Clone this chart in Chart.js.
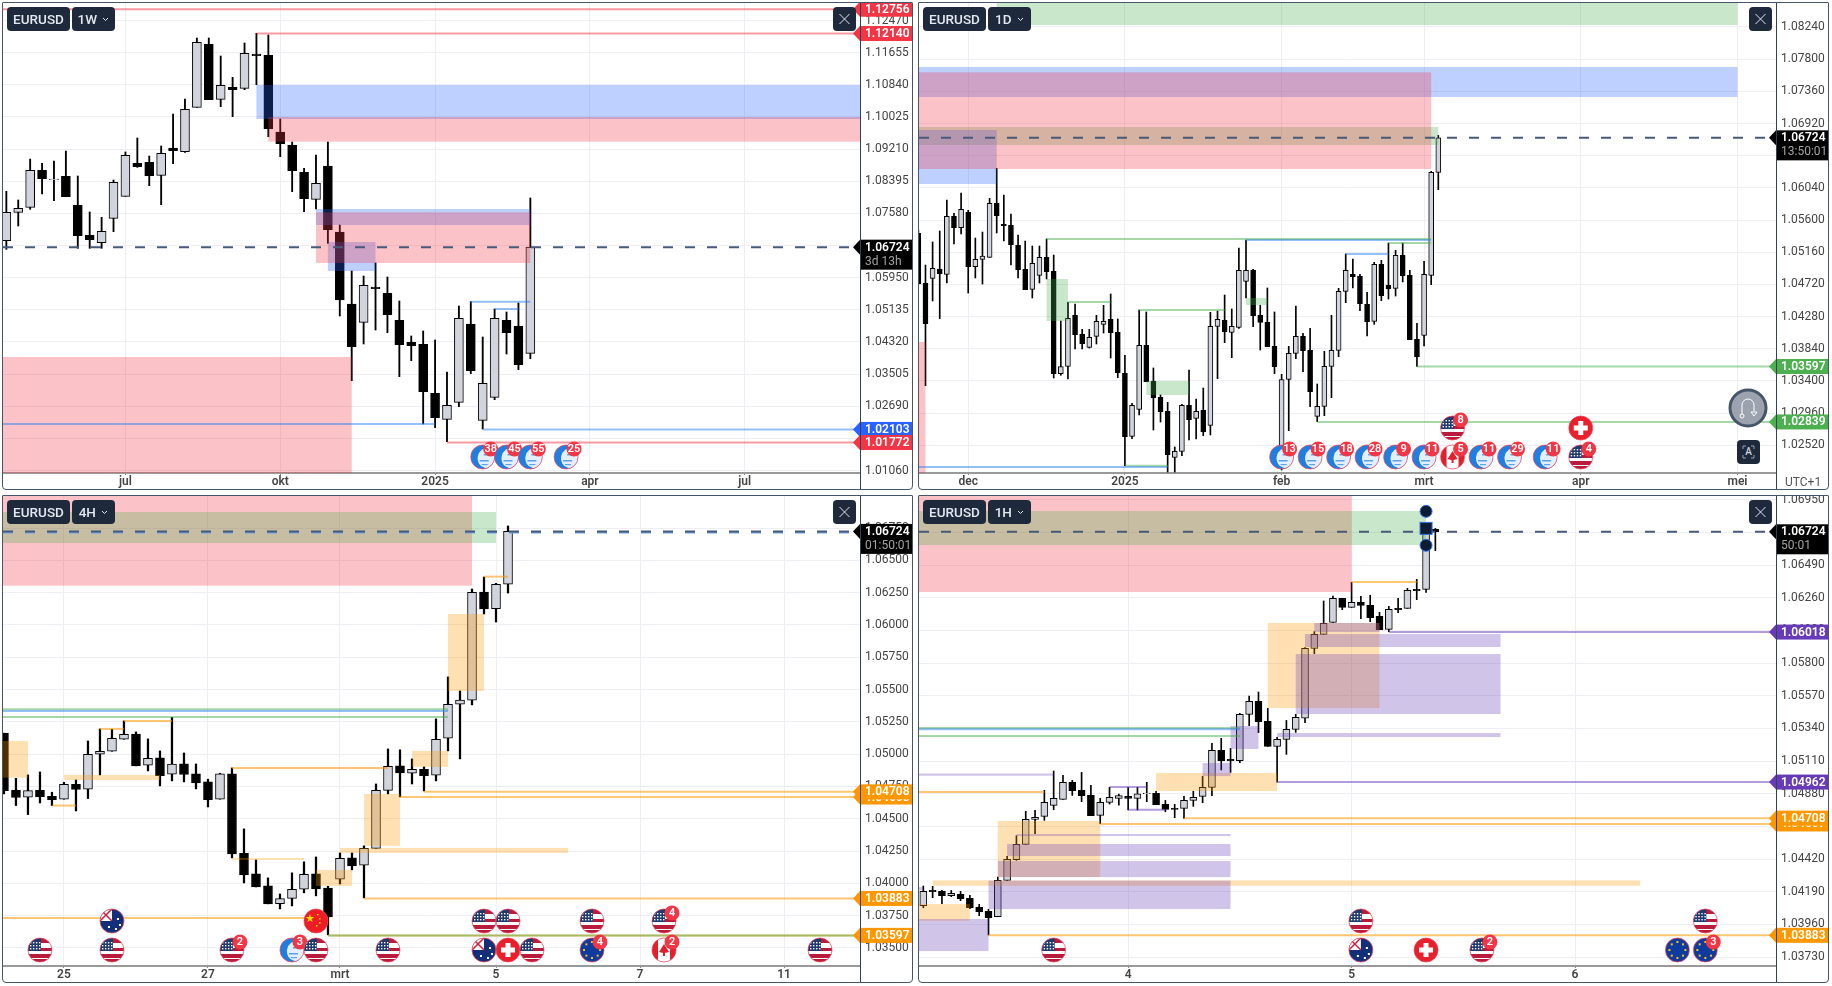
<!DOCTYPE html>
<html>
<head>
<meta charset="utf-8">
<title>EURUSD</title>
<script src="https://cdn.jsdelivr.net/npm/chart.js@4"></script>
<style>
  html, body { margin: 0; padding: 0; background: #fff; width: 1832px; height: 986px; overflow: hidden; font-family: Roboto, sans-serif; }
  .panel { position: absolute; width: 911px; height: 488px; background: #fff; }
  .frame { position: absolute; inset: 0; border: 1px solid #475569; border-radius: 1px 1px 4px 4px; box-sizing: border-box; border-width: 1px; pointer-events: none; }
  canvas { position: absolute; left: 0; top: 0; }
  .btn { position: absolute; top: 5px; height: 24px; background: #1e293b; color: #e2e8f0; border-radius: 4px; font: 500 13.5px/24px Roboto, sans-serif; text-align: center; box-sizing: border-box; }
  .utc { position: absolute; font: 12px Roboto, sans-serif; color: #555; }
</style>
</head>
<body>
<script>
// all prices are in points (1/100000)

// ---- 1W ----
const wkOpen = [106889,107607,107734,108672,108435,108520,107785,107024,106838,107455,108013,108849,108875,108545,109238,109145,110269,111866,110472,110776,110751,111621,111587,109644,109314,108621,107937,108782,107109,105284,104819,105715,105554,104870,104312,104261,103019,102360,102791,104777,102335,102918,104870,104726,104033];
const wkHigh = [108140,107920,108959,108849,108909,109162,108528,107616,107481,108427,109137,109492,109035,109289,110100,110480,112027,112027,111570,111030,111900,112145,112103,109973,109390,108723,109061,109390,107286,106120,105993,106323,105968,105360,104472,104599,104371,103560,105233,105343,104447,105157,105081,105309,107971];
const wkLow = [106669,107261,107683,108072,107903,108004,106695,106695,106695,107117,108013,108748,108283,107802,108841,109128,110269,110463,110286,110032,110717,110844,109525,109018,108131,107624,107692,106821,104979,103340,104270,104624,104557,103441,103847,102242,102149,101794,102681,103518,102115,102858,104016,103619,103898];
const wkClose = [107607,107709,108672,108461,108452,108004,107016,106914,107126,108368,109052,108765,108537,109103,109171,110218,111917,110463,110827,110717,111638,111579,109728,109348,108664,107954,108342,107168,105385,104202,105757,105672,105013,104253,104227,103061,102402,102715,104920,103594,103272,104920,104557,103746,106724];
const wkPriceTicks = [112470,111655,110840,110025,109210,108395,107580,106765,105950,105135,104320,103505,102690,101875,101060];
const wkTimeBars = [10,23,36,49,62];
const wkTimeLabels = ['jul','okt','2025','apr','jul'];
const wkBlueZones = [[21,null,110835,109973],[26,44,107692,107286],[27,31,106855,106120]];
const wkRedZones = [[22,null,110024,109399],[26,44,107607,106323],[null,29,103940,100900]];
const wkRedLines = [[null,null,112756],[21,null,112140],[37,null,101772]];
const wkBlueLines = [[null,36,102242],[40,null,102103],[39,44,105343],[41,43,105157]];
const wkTagPrices = [106724,102103,101772,112756,112140];
const wkTagKinds = ['black','blue','red','red','red'];
const wkEventBars = [40,42,44,47];
const wkEventRows = [0,0,0,0];
const wkEventKinds = ['globe','globe','globe','globe'];
const wkEventCounts = [38,45,55,25];

// ---- 1D ----
const dyOpen = [105418,104735,104803,104931,104858,105651,105496,105705,104962,105063,105090,105828,105541,105528,105254,104926,104653,104844,105090,104899,103499,103600,104297,104037,103859,104010,104174,104242,104065,103504,102642,103012,103887,103395,103176,102984,102355,102437,103066,102889,102998,102793,104147,104229,104065,104133,104762,104912,104297,104201,103873,102296,103422,103777,104010,103818,102916,103053,103600,103818,104625,104858,104830,104447,104215,104994,104707,104666,105117,104844,103969,104024,104844,106252];
const dyHigh = [105464,104985,105300,105450,105874,105692,105970,105733,105354,105436,105897,106307,105942,105683,105395,105313,105245,105245,105341,105122,104220,104475,104452,104106,104106,104297,104434,104589,104247,103750,103094,104370,104343,103577,103208,103107,102497,103080,103549,103153,103303,104338,104356,104575,104384,105218,105327,104926,104434,104671,104343,103490,103873,104425,104051,104119,103358,103805,104297,104666,105136,105067,104858,104612,105022,105049,105286,105186,105286,104912,104188,105035,106266,106758];
const dyLow = [104725,103335,104493,104251,104739,105272,105409,104602,104808,104725,105090,105423,105313,104985,104808,104648,104534,104739,104794,103440,103477,103426,103837,103837,103850,103905,104055,103714,103445,102241,102611,102934,103390,102729,102838,102155,102155,102378,102592,102606,102652,102661,103431,103923,103718,104119,104534,104142,103823,103869,103499,102182,102720,103704,103527,103048,102843,102925,103171,103732,104470,104671,104361,104014,104174,104498,104520,104561,104753,103964,103600,103878,104716,106015];
const dyClose = [104725,104183,104940,104867,105651,105496,105746,104962,105063,105108,105828,105660,105523,105263,104921,104648,105008,105090,104894,103499,103595,104256,104033,103910,103996,104215,104215,104060,103513,102638,103066,103887,103390,103171,102980,102392,102437,103066,102870,102984,102706,104147,104242,104074,104147,104912,104912,104292,104201,103869,103595,103417,103777,104010,103814,103253,103053,103600,103818,104625,104912,104826,104457,104210,104994,104566,104657,105117,104839,103964,103732,104858,106252,106724];
const dyPriceTicks = [108240,107800,107360,106920,106480,106040,105600,105160,104720,104280,103840,103400,102960,102520];
const dyTimeBars = [7,29,51,71,93,115];
const dyTimeLabels = ['dec','2025','feb','mrt','apr','mei'];
const dyGreenZones = [[11,115,108900,108267],[null,73,106872,106626],[18,21,104794,104220],[32,38,103399,103208],[46,49,104534,104438]];
const dyBlueZones = [[null,115,107693,107283],[null,11,106831,106093]];
const dyRedZones = [[null,72,107620,106298],[null,1,103932,101000]];
const dyGreenLines = [[18,72,105341],[66,72,105286],[21,27,104479],[31,43,104370],[29,35,102241],[70,null,103597],[56,null,102839]];
const dyBlueLines = [[46,72,105327],[60,66,105136],[null,35,102223]];
const dyTagPrices = [106724,103597,102839];
const dyTagKinds = ['black','green','green'];
const dyEventBars = [51,55,59,63,67,71,75,79,83,88,93,75,93];
const dyEventRows = [0,0,0,0,0,0,0,0,0,0,0,1,1];
const dyEventKinds = ['globe','globe','globe','globe','globe','globe','ca','globe','globe','globe','us','us','ch'];
const dyEventCounts = [13,15,18,28,9,11,5,11,29,11,4,8,0];

// ---- 4H ----
const h4Open = [105162,104720,104666,104720,104674,104651,104767,104728,104999,105022,105115,105156,104914,104971,104844,104924,104847,104785,104651,104847,104233,104073,103980,103843,103884,103954,104073,103964,104032,104197,104140,104271,104720,104909,104852,104883,104837,105123,105386,105417,106255,106126,106315];
const h4High = [105162,104813,104839,104862,104705,104782,104800,105102,105195,105193,105257,105172,105118,105025,105285,105009,104924,104806,104852,104893,104421,104181,104042,103918,104081,104166,104204,103977,104235,104235,104290,104769,105040,105033,104963,104901,105273,105598,105489,106278,106371,106322,106766];
const h4Low = [104692,104602,104532,104622,104602,104651,104560,104656,104839,105022,105115,104909,104870,104754,104793,104785,104731,104591,104651,104197,104003,103972,103841,103802,103825,103926,103903,103601,103995,104104,103887,104271,104692,104669,104769,104715,104793,105025,104963,105381,106085,106023,106247];
const h4Close = [104718,104664,104718,104671,104648,104767,104726,104999,105022,105123,105154,104909,104968,104834,104922,104842,104777,104648,104847,104228,104065,103972,103841,103882,103954,104070,103957,103740,104194,104135,104271,104720,104906,104855,104883,104834,105115,105386,105419,106253,106124,106315,106724];
const h4PriceTicks = [106750,106500,106250,106000,105750,105500,105250,105000,104750,104500,104250,104000,103750,103500];
const h4TimeBars = [5,17,28,41,53,65];
const h4TimeLabels = ['25','27','mrt','5','7','11'];
const h4RedZones = [[null,39,107300,106304]];
const h4GreenZones = [[null,41,106874,106634]];
const h4OrangeZones = [[null,2,105102,104818],[5,13,104839,104800],[30,33,104692,104290],[26,29,104104,103980],[34,37,105025,104901],[37,40,106085,105489],[28,47,104274,104235],[19,25,104197,104181]];
const h4OrangeLines = [[4,6,104602],[8,10,105195],[10,14,105257],[19,32,104893],[35,null,104708],[33,null,104668],[30,null,103883],[27,null,103597],[null,27,103732],[40,42,106374]];
const h4GreenLines = [[null,37,105347],[null,37,105288],[27,null,103597]];
const h4BlueLines = [[null,37,105334]];
const h4TagPrices = [106724,104668,104708,103883,103597];
const h4TagKinds = ['black','orange','orange','orange','orange'];
const h4EventBars = [3,9,19,24,26,32,40,42,44,49,55,68,9,26,40,42,49,55];
const h4EventRows = [0,0,0,0,0,0,0,0,0,0,0,0,1,1,1,1,1,1];
const h4EventKinds = ['us','us','us','globe','us','us','au','ch','us','eu','ca','us','au','cn','us','us','us','us'];
const h4EventCounts = [0,0,2,3,0,0,0,0,0,4,2,0,0,0,0,0,0,4];

// ---- 1H ----
const h1Open = [104091,104199,104192,104162,104171,104143,104080,104052,104014,104270,104415,104523,104699,104720,104798,104840,104960,104904,104868,104728,104819,104847,104861,104847,104880,104882,104805,104777,104777,104833,104861,104925,105185,105122,105112,105439,105530,105389,105213,105263,105333,105411,105903,106002,106086,106255,106192,106227,106206,106129,106037,106185,106185,106319,106319,106741];
const h1High = [104230,104228,104199,104199,104192,104164,104101,104066,104293,104439,104584,104756,104763,104904,105040,105009,104974,105030,104939,104847,104925,104878,104925,104925,104960,104897,104833,104805,104861,104897,105002,105234,105270,105199,105446,105568,105596,105481,105277,105396,105439,105908,106021,106237,106272,106255,106368,106270,106277,106157,106199,106255,106326,106389,106748,106748];
const h1Low = [104077,104148,104106,104155,104127,104070,104021,103885,104014,104270,104411,104523,104598,104692,104767,104840,104868,104824,104725,104669,104807,104800,104765,104765,104824,104803,104753,104711,104706,104791,104817,104866,105047,105030,105098,105359,105310,105213,104962,105157,105312,105380,105866,106002,106086,106176,106192,106112,106091,106035,106021,106155,106185,106246,106298,106591];
const h1Close = [104192,104190,104162,104178,104141,104077,104049,104007,104270,104418,104523,104699,104713,104819,104847,104960,104901,104866,104725,104819,104854,104866,104847,104880,104885,104803,104770,104770,104833,104854,104925,105185,105112,105112,105439,105530,105387,105213,105263,105333,105418,105903,106002,106079,106255,106192,106227,106206,106119,106035,106178,106176,106312,106309,106725,106724];
const h1PriceTicks = [106950,106720,106490,106260,106030,105800,105570,105340,105110,104880,104650,104420,104190,103960,103730];
const h1TimeBars = [22,46,70];
const h1TimeLabels = ['4','5','6'];
const h1RedZones = [[null,46,107000,106300]];
const h1GreenZones = [[null,54,106870,106631]];
const h1OrangeZones = [[37,49,106082,105483],[25,38,105026,104899],[8,19,104688,104293],[1,77,104270,104232],[null,5,104103,103986]];
const h1PurpleZones = [[null,7,103998,103772],[7,33,104268,104068],[8,33,104406,104293],[9,33,104526,104441],[10,33,104596,104582],[30,33,105096,105004],[33,36,105357,105195],[40,62,105863,105441],[41,62,106004,105913],[42,49,106082,106018],[38,62,105307,105279],[null,14,105022,105007],[null,0,104222,104200]];
const h1PurpleLines = [[20,24,104927],[22,26,104767],[50,null,106018],[38,null,104962]];
const h1OrangeLines = [[null,13,104892],[19,null,104667],[28,null,104708],[7,null,103883],[46,53,106370]];
const h1GreenLines = [[null,34,105342],[null,34,105286]];
const h1BlueLines = [[null,34,105333]];
const h1TagPrices = [106724,106018,104962,104667,104708,103883];
const h1TagKinds = ['black','purple','purple','orange','orange','orange'];
const h1MarkerCircles = [106868,106629];
const h1MarkerSquares = [106748];
const h1MarkerBar = 54;
const h1EventBars = [14,47,54,60,81,84,47,84];
const h1EventRows = [0,0,0,0,0,0,1,1];
const h1EventKinds = ['us','au','ch','us','eu','eu','us','us'];
const h1EventCounts = [0,0,0,2,0,3,0,0];

const lastPrice = 106724;

const zoneFill = { red: 'rgba(242,54,69,.3)', blue: 'rgba(41,98,255,.3)', green: 'rgba(76,175,80,.3)', orange: 'rgba(255,152,0,.3)', purple: 'rgba(103,58,183,.3)' };
const lineFill = { red: 'rgba(242,54,69,.5)', blue: 'rgba(41,130,240,.5)', green: 'rgba(76,175,80,.5)', orange: 'rgba(255,152,0,.55)', purple: 'rgba(103,58,183,.5)' };
const tagFill = { red: '#f23645', blue: '#2962ff', green: '#4caf50', orange: '#ff9800', purple: '#673ab7', black: '#000' };

function clipCircle(ctx, x, y, r) {
  ctx.beginPath();
  ctx.arc(x, y, r, 0, Math.PI * 2);
  ctx.clip();
}

function drawFlag(ctx, kind, x, y, r) {
  ctx.save();
  clipCircle(ctx, x, y, r);
  if (kind === 'us') {
    ctx.fillStyle = '#fff';
    ctx.fillRect(x - r, y - r, r * 2, r * 2);
    ctx.fillStyle = '#b71c3c';
    ctx.fillRect(x - r, y - 2, r * 2, 3);
    ctx.fillRect(x - r, y + 4, r * 2, 9);
    ctx.fillStyle = '#fff';
    ctx.fillRect(x - r, y + 8, r * 2, 1);
    ctx.fillStyle = '#b71c3c';
    ctx.fillRect(x, y - r, r, 5);
    ctx.fillStyle = '#1f3a6e';
    ctx.fillRect(x - r, y - r, r + 1, r + 1);
    ctx.fillStyle = '#fff';
    for (let i = 0; i < 4; i++) for (let j = 0; j < 3; j++) ctx.fillRect(x - 10 + i * 3, y - 8 + j * 3, 1.4, 1.4);
  } else if (kind === 'globe') {
    ctx.fillStyle = '#1e7fe0';
    ctx.fillRect(x - r, y - r, r * 2, r * 2);
    ctx.fillStyle = '#e3efff';
    ctx.beginPath();
    ctx.ellipse(x + 4, y + 1, 9, 10, 0.2, 0, Math.PI * 2);
    ctx.fill();
    ctx.fillStyle = '#5aa2ea';
    ctx.fillRect(x - 3, y + 3, 9, 1.5);
    ctx.fillRect(x + 1, y - 3, 8, 1.5);
    ctx.fillRect(x - 1, y + 7, 6, 1.2);
  } else if (kind === 'au' || kind === 'eu') {
    ctx.fillStyle = kind === 'au' ? '#12307a' : '#0f3a9e';
    ctx.fillRect(x - r, y - r, r * 2, r * 2);
    if (kind === 'au') {
      ctx.fillStyle = '#fff';
      ctx.fillRect(x - r, y - r, r, r);
      ctx.strokeStyle = '#d02040';
      ctx.lineWidth = 1.5;
      ctx.beginPath();
      ctx.moveTo(x - r, y - r);
      ctx.lineTo(x, y);
      ctx.moveTo(x, y - r);
      ctx.lineTo(x - r, y);
      ctx.stroke();
      ctx.fillStyle = '#fff';
      [[-4, 5], [5, -3], [7, 3], [3, 7]].forEach(p => ctx.fillRect(x + p[0], y + p[1], 2, 2));
    } else {
      ctx.fillStyle = '#f5c518';
      for (let i = 0; i < 8; i++) {
        const a = i * Math.PI / 4;
        ctx.fillRect(x + Math.cos(a) * 8 - 1, y + Math.sin(a) * 8 - 1, 2, 2);
      }
    }
  } else if (kind === 'cn') {
    ctx.fillStyle = '#ee1c25';
    ctx.fillRect(x - r, y - r, r * 2, r * 2);
    ctx.fillStyle = '#ffde00';
    ctx.font = '11px "DejaVu Sans"';
    ctx.textAlign = 'center';
    ctx.textBaseline = 'middle';
    ctx.fillText('\u2605', x - 6, y - 2);
    [[1, -7], [3, -3], [3, 1], [0, 4]].forEach(p => ctx.fillRect(x + p[0], y + p[1], 1.5, 1.5));
  } else if (kind === 'ca') {
    ctx.fillStyle = '#fff';
    ctx.fillRect(x - r, y - r, r * 2, r * 2);
    ctx.fillStyle = '#e0202c';
    ctx.fillRect(x - r, y - r, 6, r * 2);
    ctx.fillRect(x + r - 6, y - r, 6, r * 2);
    ctx.beginPath();
    ctx.moveTo(x, y - 6);
    ctx.lineTo(x + 5, y + 2);
    ctx.lineTo(x + 1, y + 3);
    ctx.lineTo(x + 1, y + 6);
    ctx.lineTo(x - 1, y + 6);
    ctx.lineTo(x - 1, y + 3);
    ctx.lineTo(x - 5, y + 2);
    ctx.closePath();
    ctx.fill();
  } else if (kind === 'ch') {
    ctx.fillStyle = '#e8202c';
    ctx.fillRect(x - r, y - r, r * 2, r * 2);
    ctx.fillStyle = '#fff';
    ctx.fillRect(x - 7, y - 2.5, 14, 5);
    ctx.fillRect(x - 2.5, y - 7, 5, 14);
  }
  ctx.restore();
  ctx.strokeStyle = 'rgba(242,70,90,.75)';
  ctx.lineWidth = 1;
  ctx.beginPath();
  ctx.arc(x, y, r, 0, Math.PI * 2);
  ctx.stroke();
}

function drawEvent(ctx, kind, x, y, count) {
  drawFlag(ctx, kind, x, y, 12);
  if (count) {
    ctx.fillStyle = '#f23645';
    ctx.beginPath();
    ctx.arc(x + 8, y - 8, 7.5, 0, Math.PI * 2);
    ctx.fill();
    ctx.fillStyle = '#fff';
    ctx.font = '600 11px Roboto';
    ctx.textAlign = 'center';
    ctx.textBaseline = 'middle';
    ctx.fillText(count, x + 8, y - 7.5);
  }
}

function drawTag(chart, price, kind, clock) {
  const { ctx, chartArea: area, scales } = chart;
  const y = scales.y.getPixelForValue(price / 1e5);
  const x = area.right;
  const w = chart.width - x - 1;
  const h = kind === 'black' ? 30 : 15;
  ctx.fillStyle = tagFill[kind];
  ctx.beginPath();
  ctx.moveTo(x - 7, y);
  ctx.lineTo(x, y - 7.5);
  ctx.lineTo(x, y + 7.5);
  ctx.closePath();
  ctx.fill();
  ctx.fillRect(x, y - 7.5, w, h);
  ctx.fillStyle = '#fff';
  ctx.font = '600 12px Roboto';
  ctx.textAlign = 'left';
  ctx.textBaseline = 'middle';
  ctx.fillText((price / 1e5).toFixed(5), x + 5, y + 0.5);
  if (kind === 'black') {
    ctx.fillStyle = '#a3a3a3';
    ctx.font = '12px Roboto';
    ctx.fillText(clock, x + 5, y + 14.5);
  }
}

function drawPanel(cfg) {
  const panel = document.createElement('div');
  panel.className = 'panel';
  panel.style.left = cfg.left + 'px';
  panel.style.top = cfg.top + 'px';
  const canvas = document.createElement('canvas');
  canvas.width = 911;
  canvas.height = 488;
  canvas.style.width = '911px';
  canvas.style.height = '488px';
  panel.appendChild(canvas);
  const frame = document.createElement('div');
  frame.className = 'frame';
  panel.appendChild(frame);

  const overlay = {
    id: 'overlay',
    afterDatasetsDraw(chart) {
      const { ctx, chartArea: area, scales } = chart;
      const px = b => (b === null ? null : scales.x.getPixelForValue(b));
      const py = v => scales.y.getPixelForValue(v / 1e5);
      ctx.save();
      ctx.beginPath();
      ctx.rect(area.left, area.top, area.width, area.height);
      ctx.clip();
      Object.keys(cfg.zones).forEach(colour => {
        ctx.fillStyle = zoneFill[colour];
        cfg.zones[colour].forEach(z => {
          const x0 = z[0] === null ? area.left : px(z[0]);
          const x1 = z[1] === null ? area.right : px(z[1]);
          ctx.fillRect(x0, py(z[2]), x1 - x0, py(z[3]) - py(z[2]));
        });
      });
      ctx.lineWidth = 2;
      Object.keys(cfg.lines).forEach(colour => {
        ctx.strokeStyle = lineFill[colour];
        cfg.lines[colour].forEach(l => {
          ctx.beginPath();
          ctx.moveTo(l[0] === null ? area.left : px(l[0]), py(l[2]));
          ctx.lineTo(l[1] === null ? area.right : px(l[1]), py(l[2]));
          ctx.stroke();
        });
      });
      // last price
      ctx.lineWidth = 2;
      ctx.setLineDash([10, 12]);
      if (cfg.blueUnderDash) {
        ctx.strokeStyle = '#6f9ff0';
        ctx.beginPath();
        ctx.moveTo(area.left, py(lastPrice) + 1);
        ctx.lineTo(area.right, py(lastPrice) + 1);
        ctx.stroke();
      }
      ctx.strokeStyle = '#475a78';
      ctx.beginPath();
      ctx.moveTo(area.left, py(lastPrice));
      ctx.lineTo(area.right, py(lastPrice));
      ctx.stroke();
      ctx.setLineDash([]);
      if (cfg.markers) {
        const mx = px(cfg.markers.bar);
        ctx.fillStyle = '#0f1b33';
        ctx.strokeStyle = '#2f6fe0';
        ctx.lineWidth = 1;
        cfg.markers.circles.forEach(v => {
          ctx.beginPath();
          ctx.arc(mx, py(v), 6, 0, Math.PI * 2);
          ctx.fill();
          ctx.stroke();
        });
        cfg.markers.squares.forEach(v => {
          ctx.fillRect(mx - 6, py(v) - 6, 12, 12);
          ctx.strokeRect(mx - 6, py(v) - 6, 12, 12);
        });
      }
      ctx.restore();
    },
    afterDraw(chart) {
      const { ctx, chartArea: area, scales } = chart;
      ctx.save();
      cfg.events.bars.forEach((b, i) => {
        const y = area.bottom - (cfg.events.rows[i] ? 45 : 16);
        drawEvent(ctx, cfg.events.kinds[i], scales.x.getPixelForValue(b), y, cfg.events.counts[i]);
      });
      cfg.tagPrices.forEach((p, i) => {
        if (cfg.tagKinds[i] !== 'black') drawTag(chart, p, cfg.tagKinds[i], cfg.clock);
      });
      drawTag(chart, lastPrice, 'black', cfg.clock);
      ctx.strokeStyle = '#334155';
      ctx.lineWidth = 1;
      ctx.beginPath();
      ctx.moveTo(area.right + 0.5, 0);
      ctx.lineTo(area.right + 0.5, chart.height);
      ctx.stroke();
      ctx.restore();
    }
  };

  const bars = cfg.open.map((_, i) => i);
  new Chart(canvas, {
    type: 'bar',
    data: {
      datasets: [
        {
          label: 'body',
          order: 1,
          data: bars.map(i => ({ x: i, y: [cfg.open[i] / 1e5, cfg.close[i] / 1e5] })),
          barThickness: cfg.bodyWidth,
          grouped: false,
          backgroundColor: bars.map(i => (cfg.close[i] >= cfg.open[i] ? '#d1d4dc' : '#000')),
          borderColor: '#000',
          borderWidth: 1,
          borderSkipped: false
        },
        {
          label: 'wick',
          order: 2,
          data: bars.map(i => ({ x: i, y: [cfg.low[i] / 1e5, cfg.high[i] / 1e5] })),
          barThickness: cfg.wickWidth,
          grouped: false,
          backgroundColor: '#000',
          borderWidth: 0
        }
      ]
    },
    options: {
      responsive: false,
      animation: false,
      devicePixelRatio: 1,
      layout: { padding: { top: 1, left: 1, right: 0, bottom: 0 } },
      plugins: { legend: { display: false }, tooltip: { enabled: false } },
      scales: {
        x: {
          type: 'linear',
          offset: false,
          min: cfg.xMin,
          max: cfg.xMax,
          grid: { offset: false, color: '#eeeef4', tickColor: '#888', tickLength: 2 },
          border: { color: '#999', width: 2 },
          afterBuildTicks(axis) { axis.ticks = cfg.timeBars.map(v => ({ value: v })); },
          afterFit(axis) { axis.height = 17; axis.paddingLeft = 0; axis.paddingRight = 0; },
          ticks: {
            autoSkip: false,
            maxRotation: 0,
            padding: 0,
            color: '#444',
            font: { family: 'Roboto', size: 12, weight: '600' },
            callback: v => cfg.timeLabels[cfg.timeBars.indexOf(v)]
          }
        },
        y: {
          position: 'right',
          min: cfg.yMin / 1e5,
          max: cfg.yMax / 1e5,
          grid: { color: '#eeeef4', drawTicks: false },
          border: { display: false },
          afterBuildTicks(axis) { axis.ticks = cfg.priceTicks.map(v => ({ value: v / 1e5 })); },
          afterFit(axis) { axis.width = 53; axis.paddingTop = 0; axis.paddingBottom = 0; },
          ticks: {
            autoSkip: false,
            padding: 5,
            color: '#444',
            font: { family: 'Roboto', size: 12 },
            callback: v => v.toFixed(5)
          }
        }
      }
    },
    plugins: [overlay]
  });

  // symbol and timeframe buttons
  const sym = document.createElement('div');
  sym.className = 'btn';
  sym.style.cssText = 'left:5px;width:63px';
  sym.textContent = 'EURUSD';
  panel.appendChild(sym);
  const tf = document.createElement('div');
  tf.className = 'btn';
  tf.style.cssText = 'left:70px;width:43px';
  tf.innerHTML = cfg.timeframe + ' <svg width="7" height="5" viewBox="0 0 7 5" style="margin-left:2px;vertical-align:2px"><path d="M1 1l2.5 2.5L6 1" fill="none" stroke="#e2e8f0"/></svg>';
  panel.appendChild(tf);
  const close = document.createElement('div');
  close.className = 'btn';
  close.style.cssText = 'left:831px;width:23px';
  close.innerHTML = '<svg width="23" height="24" viewBox="0 0 23 24" style="display:block"><path d="M6.5 7l10 10M16.5 7l-10 10" stroke="#e2e8f0" fill="none"/></svg>';
  panel.appendChild(close);
  document.body.appendChild(panel);
  return panel;
}

drawPanel({
  left: 2, top: 2, timeframe: '1W', clock: '3d 13h',
  open: wkOpen, high: wkHigh, low: wkLow, close: wkClose,
  xMin: -0.28, xMax: 71.68, yMin: 100999, yMax: 112914, bodyWidth: 9, wickWidth: 1.2,
  priceTicks: wkPriceTicks, timeBars: wkTimeBars, timeLabels: wkTimeLabels,
  zones: { blue: wkBlueZones, red: wkRedZones },
  lines: { red: wkRedLines, blue: wkBlueLines },
  tagPrices: wkTagPrices, tagKinds: wkTagKinds,
  events: { bars: wkEventBars, rows: wkEventRows, kinds: wkEventKinds, counts: wkEventCounts }
});

const dayPanel = drawPanel({
  left: 918, top: 2, timeframe: '1D', clock: '13:50:01',
  open: dyOpen, high: dyHigh, low: dyLow, close: dyClose,
  xMin: 0.09, xMax: 120.41, yMin: 102141, yMax: 108568, bodyWidth: 5, wickWidth: 1,
  priceTicks: dyPriceTicks, timeBars: dyTimeBars, timeLabels: dyTimeLabels,
  zones: { green: dyGreenZones, blue: dyBlueZones, red: dyRedZones },
  lines: { green: dyGreenLines, blue: dyBlueLines },
  tagPrices: dyTagPrices, tagKinds: dyTagKinds,
  events: { bars: dyEventBars, rows: dyEventRows, kinds: dyEventKinds, counts: dyEventCounts }
});

drawPanel({
  left: 2, top: 495, timeframe: '4H', clock: '01:50:01', blueUnderDash: true,
  open: h4Open, high: h4High, low: h4Low, close: h4Close,
  xMin: -0.08, xMax: 71.33, yMin: 103360, yMax: 106998, bodyWidth: 9, wickWidth: 1.6,
  priceTicks: h4PriceTicks, timeBars: h4TimeBars, timeLabels: h4TimeLabels,
  zones: { red: h4RedZones, green: h4GreenZones, orange: h4OrangeZones },
  lines: { orange: h4OrangeLines, green: h4GreenLines, blue: h4BlueLines },
  tagPrices: h4TagPrices, tagKinds: h4TagKinds,
  events: { bars: h4EventBars, rows: h4EventRows, kinds: h4EventKinds, counts: h4EventCounts }
});

drawPanel({
  left: 918, top: 495, timeframe: '1H', clock: '50:01',
  open: h1Open, high: h1High, low: h1Low, close: h1Close,
  xMin: -0.465, xMax: 91.59, yMin: 103667, yMax: 106976, bodyWidth: 7, wickWidth: 1,
  priceTicks: h1PriceTicks, timeBars: h1TimeBars, timeLabels: h1TimeLabels,
  zones: { red: h1RedZones, green: h1GreenZones, orange: h1OrangeZones, purple: h1PurpleZones },
  lines: { purple: h1PurpleLines, orange: h1OrangeLines, green: h1GreenLines, blue: h1BlueLines },
  tagPrices: h1TagPrices, tagKinds: h1TagKinds,
  markers: { bar: h1MarkerBar, circles: h1MarkerCircles, squares: h1MarkerSquares },
  events: { bars: h1EventBars, rows: h1EventRows, kinds: h1EventKinds, counts: h1EventCounts }
});

// extra controls on the daily chart
const magnet = document.createElement('div');
magnet.style.cssText = 'position:absolute;left:810px;top:386px;width:40px;height:40px';
magnet.innerHTML = '<svg width="40" height="40" viewBox="0 0 40 40"><circle cx="20" cy="20" r="18" fill="#9ca3af" stroke="#475569" stroke-width="3"/><path d="M14 26V17a6 6 0 0 1 12 0v6" fill="none" stroke="#fff"/><circle cx="14" cy="28" r="2" fill="none" stroke="#fff"/><path d="M23 24h6l-3 4z" fill="none" stroke="#fff"/></svg>';
dayPanel.appendChild(magnet);
const autoBtn = document.createElement('div');
autoBtn.className = 'btn';
autoBtn.style.cssText = 'left:819px;top:438px;width:23px;font-size:10px;color:#cbd5e1';
autoBtn.innerHTML = '<svg width="23" height="24" viewBox="0 0 23 24" style="position:absolute;left:0;top:0"><path d="M6 9V6h3M14 6h3v3M17 15v3h-3M9 18H6v-3" fill="none" stroke="#94a3b8"/></svg>A';
dayPanel.appendChild(autoBtn);
const utc = document.createElement('div');
utc.className = 'utc';
utc.style.cssText = 'left:867px;top:473px';
utc.textContent = 'UTC+1';
dayPanel.appendChild(utc);
</script>
</body>
</html>
